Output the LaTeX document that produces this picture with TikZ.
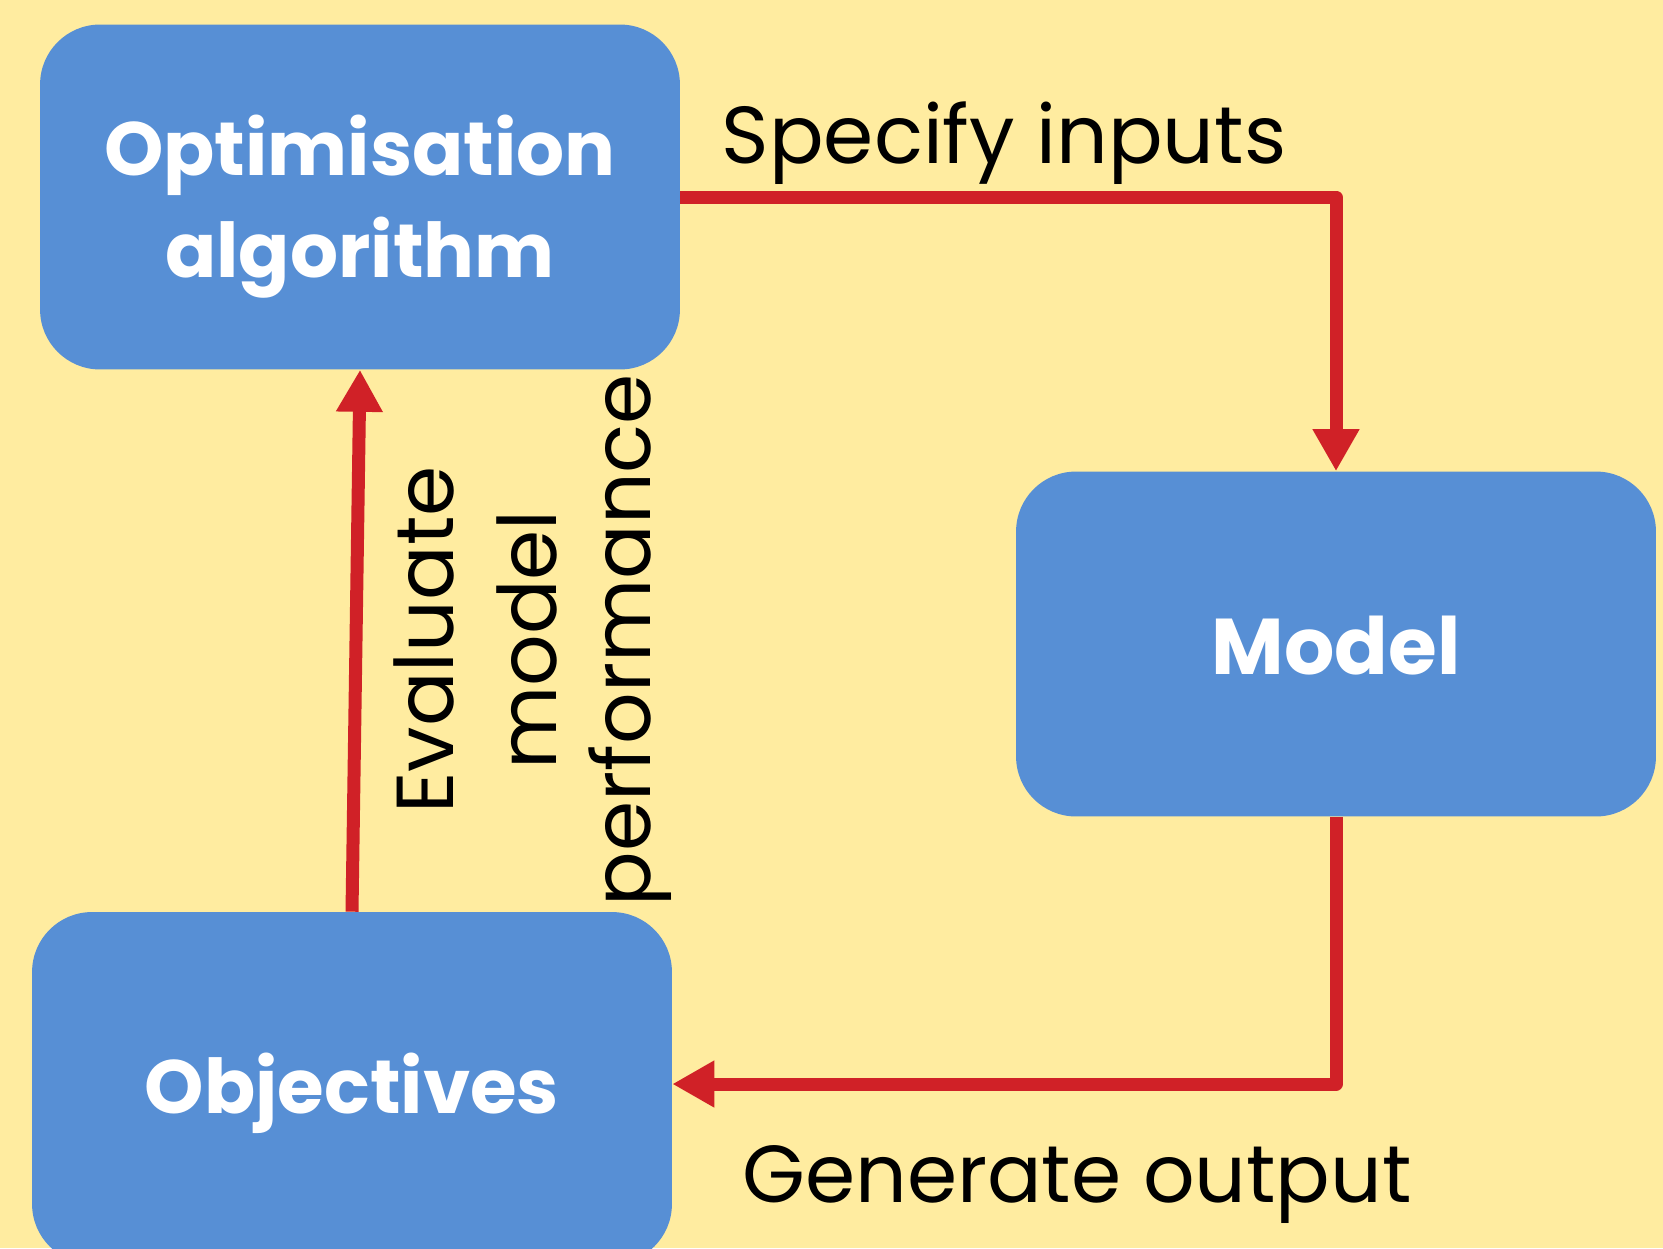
\documentclass[tikz,border=0pt]{standalone}
\usepackage{fontspec}
\setmainfont{Poppins}
\usetikzlibrary{arrows.meta}
\definecolor{bgc}{RGB}{255,236,160}
\definecolor{boxc}{RGB}{87,143,213}
\definecolor{arrc}{RGB}{208,33,39}
\tikzset{
  blockbox/.style={draw=none, fill=boxc, rounded corners=1.2cm, minimum width=12.8cm, minimum height=6.9cm, inner sep=0pt},
  boxtext/.style={text=white, font=\fontsize{43}{58}\selectfont\bfseries, align=center, inner sep=0pt},
  flowarr/.style={draw=arrc, line width=0.26cm, line join=round, -{Triangle[length=0.84cm,width=0.88cm]}},
  lbl/.style={font=\fontsize{46}{56}\selectfont, text=black, inner sep=0pt, anchor=center}
}
\begin{document}
\begin{tikzpicture}[x=0.02cm,y=-0.02cm]
\fill[bgc] (0,0) rectangle (1663,1248);
\useasboundingbox (0,0) rectangle (1663,1248);
\node[blockbox] (opt) at (360,197) {};
\node[blockbox] (model) at (1336,644) {};
\node[blockbox, minimum height=7.04cm] (obj) at (352,1088) {};
\node[boxtext] (optt) at ([yshift=-0.2cm]opt.center) {Optimisation\\algorithm};
\node[boxtext, font=\fontsize{45}{58}\selectfont\bfseries] (modelt) at ([yshift=-0.04cm]model.center) {Model};
\node[boxtext] (objt) at ([yshift=-0.1cm]obj.center) {Objectives};
\draw[flowarr] (opt.east) -| (model.north);
\draw[flowarr] (model.south) |- ([yshift=0.08cm]obj.east);
\draw[flowarr] (obj.north) -- (opt.south);
\node[lbl] (spec) at (1004,143) {Specify inputs};
\node[lbl] (gen) at (1077,1184) {Generate output};
\node[lbl, rotate=90] (ev) at (424,640) {Evaluate};
\node[lbl, rotate=90] (md) at (527,640) {model};
\node[lbl, rotate=90] (perf) at (630,640) {performance};
\end{tikzpicture}
\end{document}
